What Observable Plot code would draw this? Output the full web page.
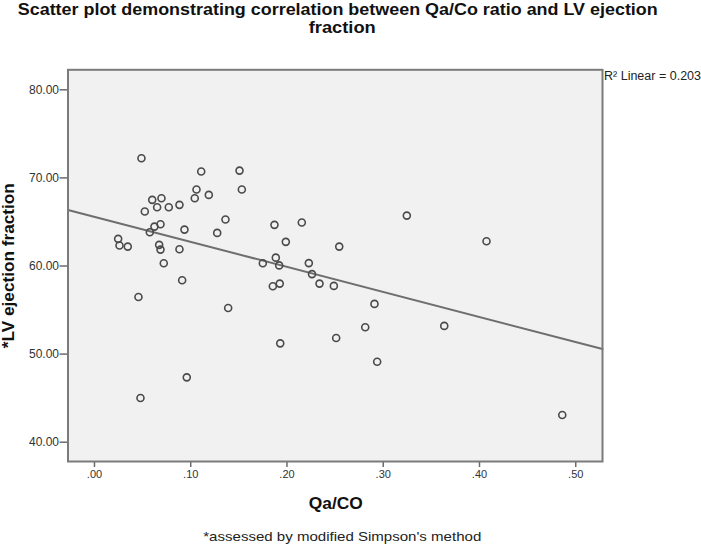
<!DOCTYPE html>
<html><head><meta charset="utf-8">
<script src="https://cdn.jsdelivr.net/npm/d3@7"></script>
<script src="https://cdn.jsdelivr.net/npm/@observablehq/plot@0.6"></script>
<style>
html,body{margin:0;padding:0;background:#fff;}
</style></head><body><div id="chart"></div>
<script>
const titleLines = ["Scatter plot demonstrating correlation between Qa/Co ratio and LV ejection", "fraction"];
const xLabel = "Qa/CO";
const yLabel = "*LV ejection fraction";
const footnote = "*assessed by modified Simpson's method";
const fitLabel = "R\u00B2 Linear = 0.203";
const xTicks = [0, 0.1, 0.2, 0.3, 0.4, 0.5];
const yTicks = [40, 50, 60, 70, 80];

const qaCo = [0.0488,0.1109,0.1507,0.1060,0.1531,0.1042,0.1188,0.0600,0.0696,0.0651,0.0772,0.0883,0.0523,0.0623,0.0686,0.0575,0.0935,0.1361,0.1275,0.0246,0.0260,0.0346,0.0672,0.0686,0.0883,0.0720,0.0911,0.0457,0.1870,0.2154,0.1988,0.1749,0.1884,0.1919,0.2227,0.2260,0.1853,0.1925,0.2338,0.1389,0.1930,0.0959,0.0478,0.3245,0.4073,0.2543,0.2487,0.2909,0.2813,0.3634,0.2511,0.2937,0.4860];
const lvef = [72.23,70.72,70.83,68.68,68.68,67.69,68.07,67.51,67.69,66.67,66.67,66.94,66.18,64.47,64.74,63.83,64.13,65.27,63.76,63.08,62.32,62.20,62.40,61.86,61.90,60.31,58.38,56.49,64.67,64.93,62.74,60.31,60.95,60.07,60.33,59.08,57.70,58.00,58.00,55.24,51.22,47.36,45.02,65.72,62.81,62.20,57.74,55.70,53.04,53.20,51.83,49.14,43.09];

const rows = qaCo.map((x, i) => ({x, y: lvef[i]}));
const xDomain = [-0.0275, 0.5278];
const yDomain = [37.81, 82.27];

// least-squares fit computed from the data
const mx = d3.mean(qaCo), my = d3.mean(lvef);
const sxy = d3.sum(rows, d => (d.x - mx) * (d.y - my));
const sxx = d3.sum(rows, d => (d.x - mx) ** 2);
const slope = sxy / sxx, intercept = my - slope * mx;
const fitRows = xDomain.map(x => ({x, y: intercept + slope * x}));

const font = "'Liberation Sans', Arial, sans-serif";

const chart = Plot.plot({
  width: 701,
  height: 549,
  marginTop: 69.3,
  marginLeft: 67.5,
  marginRight: 99,
  marginBottom: 88,
  style: {fontFamily: font, background: "#fff", color: "#222"},
  x: {domain: xDomain},
  y: {domain: yDomain},
  marks: [
    Plot.frame({fill: "#f1f1f1", stroke: "none"}),
    Plot.axisX(xTicks, {tickSize: 6, tickPadding: 3, fontSize: 11, strokeWidth: 1.5, stroke: "#6a6a6a", fill: "#333",
      tickFormat: d => d3.format(".2f")(d).replace(/^0/, ""), label: null}),
    Plot.axisY(yTicks, {tickSize: 8, tickPadding: 1, fontSize: 12, strokeWidth: 1.5, stroke: "#6a6a6a", fill: "#333",
      tickFormat: d3.format(".2f"), label: null}),
    Plot.line(fitRows, {x: "x", y: "y", stroke: "#6e6e6e", strokeWidth: 2}),
    Plot.dot(rows, {x: "x", y: "y", r: 3.5, stroke: "#4a4a4a", strokeWidth: 1.6, fill: "none"}),
    Plot.frame({stroke: "#7b7b7b", strokeWidth: 2}),
    Plot.text([titleLines[0]], {frameAnchor: "top", dx: 2.5, dy: -60, fontSize: 17, fontWeight: "bold", fill: "#111", textAnchor: "middle", lineAnchor: "middle"}),
    Plot.text([titleLines[1]], {frameAnchor: "top", dx: 7, dy: -42, fontSize: 17, fontWeight: "bold", fill: "#111", textAnchor: "middle", lineAnchor: "middle"}),
    Plot.text([yLabel], {frameAnchor: "left", dx: -59, rotate: -90, fontSize: 16, fontWeight: "bold", fill: "#111", textAnchor: "middle", lineAnchor: "middle"}),
    Plot.text([xLabel], {frameAnchor: "bottom", dx: 0.5, dy: 42, fontSize: 16, fontWeight: "bold", fill: "#111", textAnchor: "middle", lineAnchor: "middle"}),
    Plot.text([footnote], {frameAnchor: "bottom", dx: 7, dy: 75, fontSize: 13, fill: "#222", textAnchor: "middle", lineAnchor: "middle"}),
    Plot.text([fitLabel], {frameAnchor: "top-right", dx: 1.5, dy: 2, fontSize: 12, fill: "#222", textAnchor: "start", lineAnchor: "top"})
  ]
});
document.getElementById("chart").appendChild(chart);

const lengths = new Map([
  [titleLines[0], 640], [titleLines[1], 67], [yLabel, 165], [xLabel, 54], [footnote, 278], [fitLabel, 97]
]);
d3.select(chart).selectAll("text").each(function() {
  const t = this.textContent;
  if (lengths.has(t)) {
    d3.select(this).attr("textLength", lengths.get(t)).attr("lengthAdjust", "spacingAndGlyphs");
  }
});
</script></body></html>
